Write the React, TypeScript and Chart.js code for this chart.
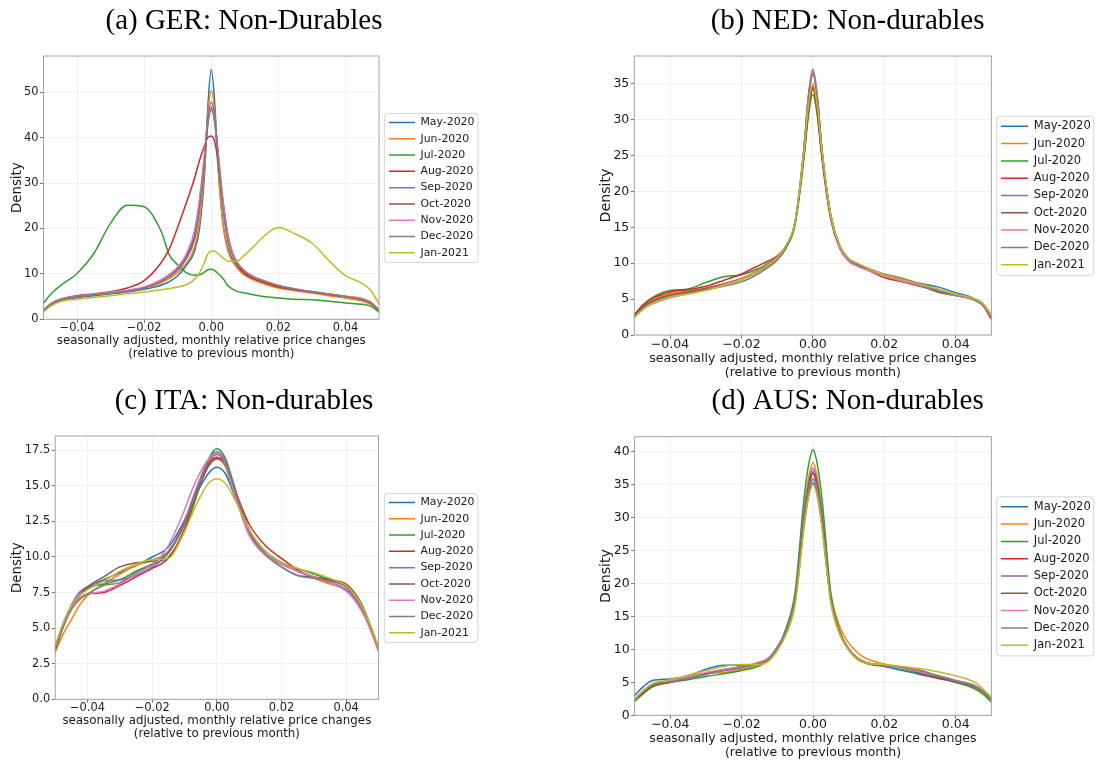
import React, { useEffect, useRef } from "react";
import { Chart, registerables } from "chart.js";

Chart.register(...registerables);

// ---------- shared labels ----------
const SERIES = ["May-2020", "Jun-2020", "Jul-2020", "Aug-2020", "Sep-2020", "Oct-2020", "Nov-2020", "Dec-2020", "Jan-2021"];
const COLORS = ["#1f77b4", "#ff7f0e", "#2ca02c", "#d62728", "#9467bd", "#8c564b", "#e377c2", "#7f7f7f", "#bcbd22"];
const X_TICKS = [-0.04, -0.02, 0, 0.02, 0.04];
const X_TICK_LABELS = ["\u22120.04", "\u22120.02", "0.00", "0.02", "0.04"];
const X_TITLE = ["seasonally adjusted, monthly relative price changes", "(relative to previous month)"];
const Y_TITLE = "Density";

// ---------- (a) GER ----------
const GER_TITLE = "(a) GER: Non-Durables";
const GER_X = [-0.05, -0.0475, -0.045, -0.04, -0.035, -0.03, -0.025, -0.02, -0.015, -0.0125, -0.01, -0.0075, -0.005, -0.0035, -0.002, -0.001, 0, 0.001, 0.002, 0.0035, 0.005, 0.0075, 0.01, 0.0125, 0.015, 0.02, 0.025, 0.03, 0.035, 0.04, 0.045, 0.0475, 0.05];
const GER_MAY = [2.0, 3.3, 4.1, 4.8, 5.2, 5.6, 6.0, 6.6, 7.5, 8.3, 9.6, 11.8, 15.0, 20.0, 32.0, 47.0, 55.0, 48.0, 34.0, 21.0, 15.5, 11.8, 10.0, 9.0, 8.2, 7.2, 6.5, 6.0, 5.4, 4.9, 4.3, 3.6, 1.9];
const GER_JUN = [2.0, 3.4, 4.2, 5.0, 5.4, 5.8, 6.2, 6.9, 8.0, 9.0, 10.3, 12.3, 15.8, 21.5, 33.5, 45.5, 50.3, 46.0, 34.0, 21.0, 15.0, 11.5, 9.7, 8.7, 8.0, 6.9, 6.3, 5.8, 5.2, 4.7, 4.0, 3.3, 1.8];
const GER_JUL = [3.6, 5.8, 7.4, 10.1, 14.5, 21.2, 25.1, 24.8, 19.5, 14.2, 12.0, 10.3, 9.7, 9.8, 10.4, 10.9, 11.0, 10.7, 10.1, 9.0, 7.4, 6.2, 5.8, 5.4, 5.1, 4.7, 4.4, 4.3, 4.0, 3.6, 3.3, 2.9, 1.6];
const GER_AUG = [2.0, 3.5, 4.4, 5.2, 5.6, 6.1, 6.9, 8.5, 12.4, 15.5, 20.3, 25.5, 31.0, 35.0, 38.3, 40.1, 40.4, 39.2, 35.0, 26.0, 18.5, 12.4, 10.0, 9.0, 8.3, 7.1, 6.5, 6.0, 5.5, 5.0, 4.3, 3.6, 1.9];
const GER_SEP = [2.0, 3.5, 4.3, 5.0, 5.4, 5.9, 6.3, 7.0, 8.6, 9.8, 11.3, 14.0, 19.0, 26.0, 36.0, 43.5, 46.5, 44.0, 37.0, 26.0, 18.0, 12.8, 10.6, 9.4, 8.6, 7.4, 6.6, 6.0, 5.5, 5.0, 4.5, 3.7, 2.0];
const GER_OCT = [2.0, 3.5, 4.3, 5.0, 5.4, 5.9, 6.3, 7.0, 8.4, 9.5, 11.0, 13.5, 18.2, 25.0, 35.0, 43.0, 46.2, 43.5, 36.0, 25.0, 17.5, 12.5, 10.5, 9.3, 8.5, 7.3, 6.6, 6.0, 5.5, 5.0, 4.4, 3.7, 2.0];
const GER_NOV = [2.1, 3.6, 4.4, 5.1, 5.5, 6.0, 6.4, 7.1, 8.7, 9.9, 11.5, 14.3, 19.5, 26.5, 36.5, 44.0, 46.8, 44.2, 37.0, 26.0, 18.0, 12.9, 10.7, 9.5, 8.7, 7.5, 6.7, 6.1, 5.6, 5.1, 4.6, 3.8, 2.1];
const GER_DEC = [2.0, 3.5, 4.3, 5.0, 5.4, 5.8, 6.2, 6.9, 8.3, 9.4, 10.8, 13.2, 17.5, 24.0, 35.0, 44.5, 47.8, 45.0, 36.5, 24.5, 17.0, 12.5, 10.5, 9.3, 8.6, 7.4, 6.7, 6.1, 5.6, 5.0, 4.4, 3.7, 2.0];
const GER_JAN = [1.7, 3.0, 3.9, 4.4, 4.8, 5.2, 5.6, 6.0, 6.5, 6.8, 7.1, 7.6, 8.8, 10.2, 12.6, 14.4, 15.0, 15.0, 14.5, 13.5, 12.8, 12.8, 14.2, 15.9, 17.8, 20.2, 18.8, 16.8, 13.0, 9.6, 7.9, 6.4, 3.4];
const GER_Y_TICKS = [0, 10, 20, 30, 40, 50];
const GER_Y_LABELS = ["0", "10", "20", "30", "40", "50"];
const GER_Y_MAX = 58;

// ---------- (b) NED ----------
const NED_TITLE = "(b) NED: Non-durables";
const NED_X = [-0.05, -0.0475, -0.045, -0.04, -0.035, -0.03, -0.025, -0.02, -0.015, -0.0125, -0.01, -0.0075, -0.005, -0.0025, -0.00125, 0, 0.00125, 0.0025, 0.005, 0.0075, 0.01, 0.0125, 0.015, 0.02, 0.025, 0.03, 0.035, 0.04, 0.045, 0.0475, 0.05];
const NED_MAY = [2.6, 3.9, 4.7, 5.5, 5.9, 6.4, 7.0, 7.8, 9.0, 9.8, 10.8, 12.4, 15.6, 25.0, 31.0, 34.3, 31.0, 25.3, 16.5, 12.4, 10.6, 9.9, 9.3, 8.4, 7.7, 7.2, 6.7, 5.9, 5.1, 4.3, 2.6];
const NED_JUN = [2.7, 4.0, 4.9, 5.8, 6.1, 6.5, 7.1, 7.9, 9.1, 9.9, 10.9, 12.4, 15.7, 25.3, 31.5, 34.8, 31.4, 25.5, 16.6, 12.4, 10.6, 9.9, 9.3, 8.4, 7.6, 7.0, 6.3, 5.6, 5.0, 4.3, 2.6];
const NED_JUL = [2.8, 4.2, 5.2, 6.2, 6.4, 7.3, 8.1, 8.4, 9.3, 10.0, 10.8, 12.2, 15.3, 24.5, 30.5, 33.5, 30.5, 24.8, 16.2, 12.2, 10.5, 9.8, 9.3, 8.4, 7.6, 6.9, 6.0, 5.5, 4.9, 4.2, 2.5];
const NED_AUG = [2.8, 4.2, 5.1, 6.0, 6.3, 6.8, 7.6, 8.5, 9.7, 10.3, 11.0, 12.4, 15.6, 25.0, 31.0, 34.5, 31.0, 25.0, 16.2, 12.1, 10.3, 9.6, 9.1, 8.0, 7.4, 6.8, 6.2, 5.6, 5.0, 4.2, 2.2];
const NED_SEP = [2.6, 3.8, 4.6, 5.4, 5.9, 6.4, 7.0, 7.7, 8.9, 9.6, 10.6, 12.2, 15.6, 25.8, 32.8, 36.3, 32.8, 26.0, 16.6, 12.3, 10.4, 9.7, 9.2, 8.3, 7.6, 7.0, 6.3, 5.6, 5.0, 4.3, 2.6];
const NED_OCT = [2.6, 3.9, 4.7, 5.6, 6.0, 6.5, 7.1, 7.8, 8.9, 9.7, 10.6, 12.2, 15.6, 26.0, 33.3, 37.0, 33.3, 26.2, 16.7, 12.3, 10.4, 9.7, 9.2, 8.3, 7.5, 6.9, 6.0, 5.5, 5.0, 4.3, 2.6];
const NED_NOV = [2.5, 3.6, 4.3, 5.2, 5.7, 6.3, 7.0, 7.8, 9.0, 9.7, 10.6, 12.2, 15.7, 26.0, 33.2, 36.8, 33.1, 26.0, 16.6, 12.2, 10.3, 9.6, 9.1, 8.2, 7.5, 6.9, 6.2, 5.5, 5.0, 4.3, 2.6];
const NED_DEC = [2.5, 3.7, 4.5, 5.4, 5.8, 6.3, 6.8, 7.4, 8.6, 9.4, 10.4, 12.1, 15.5, 25.8, 32.8, 36.5, 32.8, 26.0, 16.8, 12.5, 10.6, 9.9, 9.4, 8.5, 7.9, 7.1, 6.2, 5.6, 5.1, 4.4, 2.7];
const NED_JAN = [2.4, 3.6, 4.4, 5.3, 5.7, 6.2, 6.9, 7.7, 8.9, 9.8, 10.8, 12.5, 15.8, 25.5, 31.8, 35.0, 31.8, 25.8, 16.8, 12.5, 10.7, 10.0, 9.4, 8.4, 7.7, 7.1, 6.4, 5.7, 5.1, 4.5, 2.8];
const NED_Y_TICKS = [0, 5, 10, 15, 20, 25, 30, 35];
const NED_Y_LABELS = ["0", "5", "10", "15", "20", "25", "30", "35"];
const NED_Y_MAX = 38.85;

// ---------- (c) ITA ----------
const ITA_TITLE = "(c) ITA: Non-durables";
const ITA_X = [-0.05, -0.0475, -0.045, -0.0425, -0.04, -0.035, -0.03, -0.025, -0.02, -0.015, -0.01, -0.0075, -0.005, -0.0025, 0, 0.0025, 0.005, 0.0075, 0.01, 0.015, 0.02, 0.025, 0.03, 0.035, 0.04, 0.0425, 0.045, 0.0475, 0.05];
const ITA_MAY = [3.4, 5.2, 6.6, 7.5, 7.9, 8.4, 8.9, 9.4, 10.0, 10.7, 12.6, 13.9, 15.0, 15.9, 16.3, 15.9, 14.6, 13.1, 11.8, 10.4, 9.6, 9.0, 8.6, 8.2, 7.7, 7.1, 6.2, 5.0, 3.4];
const ITA_JUN = [3.3, 4.6, 5.6, 6.6, 7.3, 8.1, 8.8, 9.4, 9.8, 10.4, 12.4, 13.9, 15.3, 16.5, 16.9, 16.4, 14.8, 13.2, 11.8, 10.2, 9.5, 9.0, 8.5, 8.1, 7.7, 7.1, 6.2, 4.9, 3.4];
const ITA_JUL = [3.6, 5.2, 6.4, 7.3, 7.8, 8.1, 8.4, 9.0, 9.5, 10.0, 11.8, 13.4, 15.2, 16.9, 17.6, 17.0, 15.3, 13.4, 11.9, 10.4, 9.6, 9.2, 8.8, 8.4, 7.9, 7.3, 6.4, 5.1, 3.6];
const ITA_AUG = [3.6, 5.2, 6.4, 7.1, 7.4, 7.5, 8.0, 8.6, 9.2, 9.9, 12.0, 13.7, 15.3, 16.6, 17.0, 16.6, 15.1, 13.6, 12.3, 10.8, 9.9, 9.1, 8.6, 8.4, 8.1, 7.5, 6.5, 5.1, 3.5];
const ITA_SEP = [3.6, 5.3, 6.6, 7.5, 7.9, 8.3, 8.4, 8.7, 9.3, 10.3, 12.5, 14.1, 15.6, 16.9, 17.4, 16.8, 15.0, 13.2, 11.7, 10.2, 9.5, 9.0, 8.6, 8.2, 7.7, 7.1, 6.2, 5.0, 3.5];
const ITA_OCT = [3.5, 5.1, 6.4, 7.3, 7.9, 8.6, 9.3, 9.6, 9.7, 10.3, 12.3, 13.8, 15.2, 16.4, 16.9, 16.5, 14.9, 13.3, 11.8, 10.2, 9.3, 8.7, 8.6, 8.4, 8.0, 7.5, 6.6, 5.2, 3.6];
const ITA_NOV = [3.7, 5.3, 6.4, 7.1, 7.4, 7.6, 8.1, 8.8, 9.4, 10.8, 13.3, 14.8, 16.0, 16.9, 17.3, 16.6, 14.8, 13.0, 11.5, 10.1, 9.5, 9.0, 8.6, 8.2, 7.6, 7.0, 6.1, 4.9, 3.5];
const ITA_DEC = [3.5, 5.1, 6.3, 7.0, 7.4, 8.0, 8.2, 8.9, 9.5, 10.4, 12.4, 13.9, 15.4, 16.7, 17.2, 16.7, 15.1, 13.4, 11.9, 10.2, 9.3, 8.7, 8.5, 8.3, 7.9, 7.3, 6.4, 5.1, 3.6];
const ITA_JAN = [3.8, 5.4, 6.6, 7.3, 7.7, 8.3, 9.0, 9.5, 9.8, 9.9, 11.8, 13.1, 14.3, 15.2, 15.5, 15.2, 14.3, 13.1, 11.9, 10.4, 9.6, 9.2, 8.9, 8.5, 8.0, 7.4, 6.5, 5.2, 3.7];
const ITA_Y_TICKS = [0, 2.5, 5, 7.5, 10, 12.5, 15, 17.5];
const ITA_Y_LABELS = ["0.0", "2.5", "5.0", "7.5", "10.0", "12.5", "15.0", "17.5"];
const ITA_Y_MAX = 18.5;

// ---------- (d) AUS ----------
const AUS_TITLE = "(d) AUS: Non-durables";
const AUS_X = [-0.05, -0.0475, -0.045, -0.04, -0.035, -0.03, -0.025, -0.02, -0.015, -0.0125, -0.01, -0.0075, -0.005, -0.0025, -0.00125, 0, 0.00125, 0.0025, 0.005, 0.0075, 0.01, 0.0125, 0.015, 0.02, 0.025, 0.03, 0.035, 0.04, 0.045, 0.0475, 0.05];
const AUS_MAY = [3.0, 4.4, 5.3, 5.5, 6.0, 7.0, 7.6, 7.6, 7.8, 8.5, 10.0, 12.6, 17.2, 29.0, 33.3, 35.3, 33.3, 29.0, 17.3, 12.4, 9.9, 8.5, 7.9, 7.4, 6.8, 6.2, 5.7, 5.0, 4.3, 3.6, 2.5];
const AUS_JUN = [2.3, 3.5, 4.4, 5.0, 5.9, 6.4, 6.5, 7.0, 7.6, 8.4, 10.2, 13.0, 18.0, 31.0, 36.0, 38.4, 36.0, 31.0, 18.5, 13.5, 11.0, 9.5, 8.6, 7.8, 7.2, 6.6, 5.8, 5.0, 4.3, 3.5, 2.3];
const AUS_JUL = [2.1, 3.3, 4.3, 5.0, 5.4, 5.9, 6.3, 6.8, 7.5, 8.4, 10.2, 13.3, 18.8, 33.0, 38.0, 40.3, 38.0, 33.0, 18.5, 12.8, 10.0, 8.5, 7.9, 7.5, 7.0, 6.4, 5.8, 5.0, 4.1, 3.3, 2.0];
const AUS_AUG = [2.3, 3.5, 4.5, 5.0, 5.6, 6.3, 6.9, 7.3, 7.9, 8.6, 10.3, 12.8, 17.6, 29.8, 34.5, 36.7, 34.5, 29.8, 17.6, 12.6, 10.1, 8.6, 8.0, 7.6, 7.2, 6.8, 5.9, 5.1, 4.5, 3.7, 2.4];
const AUS_SEP = [2.4, 3.7, 4.6, 5.1, 5.6, 6.2, 6.8, 7.2, 8.0, 8.7, 10.4, 12.9, 17.8, 30.5, 35.2, 37.5, 35.2, 30.5, 17.8, 12.6, 10.1, 8.7, 8.0, 7.5, 7.2, 6.7, 6.0, 5.3, 4.6, 3.8, 2.5];
const AUS_OCT = [2.3, 3.6, 4.6, 5.2, 5.7, 6.3, 6.9, 7.4, 8.0, 8.6, 10.3, 12.8, 17.6, 30.0, 34.8, 37.0, 34.8, 30.0, 17.6, 12.5, 10.0, 8.6, 7.9, 7.5, 7.3, 6.3, 5.6, 5.1, 4.4, 3.7, 2.4];
const AUS_NOV = [2.4, 3.7, 4.7, 5.2, 5.8, 6.5, 7.0, 7.4, 8.1, 8.7, 10.3, 12.7, 17.4, 29.2, 34.0, 36.0, 34.0, 29.2, 17.4, 12.4, 10.0, 8.6, 8.0, 7.6, 7.1, 6.6, 6.0, 5.3, 4.6, 3.8, 2.5];
const AUS_DEC = [2.4, 3.7, 4.7, 5.1, 5.6, 6.2, 6.8, 7.3, 7.9, 8.5, 10.2, 12.6, 17.3, 29.0, 33.8, 35.8, 33.8, 29.0, 17.4, 12.4, 10.0, 8.6, 8.0, 7.6, 7.3, 6.8, 6.0, 5.2, 4.5, 3.7, 2.5];
const AUS_JAN = [2.4, 3.8, 4.8, 5.4, 6.1, 6.8, 7.4, 7.7, 7.7, 8.2, 9.8, 12.3, 16.8, 28.5, 33.0, 35.0, 33.0, 28.5, 17.0, 12.3, 9.9, 8.5, 7.9, 7.7, 7.4, 7.1, 6.6, 6.0, 5.1, 4.1, 2.7];
const AUS_Y_TICKS = [0, 5, 10, 15, 20, 25, 30, 35, 40];
const AUS_Y_LABELS = ["0", "5", "10", "15", "20", "25", "30", "35", "40"];
const AUS_Y_MAX = 42.3;

// ---------- styles / layout (page pixel coordinates) ----------
const FONT_SANS = "'DejaVu Sans', sans-serif";
const FONT_SERIF = "'Liberation Serif', serif";
const TEXT = "#1a1a1a";
const GRID = "rgba(0,0,0,0.075)";
const SPINE = "#a2a2a2";
const LEGEND_EDGE = "#d4d4d4";

const STYLE_SMALL = { tick: 11.4, xlab: 11.85, xlabLH: 13, ylab: 13.3, leg: 10.9, legPad: 5.4, legLine: 26, legW: 96, frame: { l: 4.7, t: 9, b: 9.7, r: 3.5 } };
const STYLE_LARGE = { tick: 12.5, xlab: 12.55, xlabLH: 13.5, ylab: 14.2, leg: 11.5, legPad: 5.8, legLine: 27, legW: 103.5, frame: { l: 4.3, t: 10, b: 10.7, r: 3 } };

const LAYOUT_A = { cl: 0, ct: 0, w: 480, h: 372, padL: 8.4, plotL: 43.5, plotR: 379, plotT: 56, plotB: 319.3, legL: 383.6, titleCY: 21, xl1: 341, ylabCX: 17.7 };
const LAYOUT_B = { cl: 596, ct: 0, w: 503, h: 382, padL: 0.5, plotL: 634.3, plotR: 991.4, plotT: 56, plotB: 335, legL: 995.2, titleCY: 21, xl1: 359, ylabCX: 606 };
const LAYOUT_C = { cl: 0, ct: 380, w: 480, h: 372, padL: 8.4, plotL: 55.2, plotR: 378.5, plotT: 436, plotB: 699.3, legL: 383.6, titleCY: 401, xl1: 721, ylabCX: 17.6 };
const LAYOUT_D = { cl: 596, ct: 380, w: 503, h: 382, padL: 0.5, plotL: 634.6, plotR: 991.4, plotT: 436.7, plotB: 715.3, legL: 995.2, titleCY: 401, xl1: 739, ylabCX: 606 };

const PANELS = [
  { key: "a", title: GER_TITLE, x: GER_X, values: [GER_MAY, GER_JUN, GER_JUL, GER_AUG, GER_SEP, GER_OCT, GER_NOV, GER_DEC, GER_JAN], yTicks: GER_Y_TICKS, yLabels: GER_Y_LABELS, yMax: GER_Y_MAX, layout: LAYOUT_A, style: STYLE_SMALL },
  { key: "b", title: NED_TITLE, x: NED_X, values: [NED_MAY, NED_JUN, NED_JUL, NED_AUG, NED_SEP, NED_OCT, NED_NOV, NED_DEC, NED_JAN], yTicks: NED_Y_TICKS, yLabels: NED_Y_LABELS, yMax: NED_Y_MAX, layout: LAYOUT_B, style: STYLE_LARGE },
  { key: "c", title: ITA_TITLE, x: ITA_X, values: [ITA_MAY, ITA_JUN, ITA_JUL, ITA_AUG, ITA_SEP, ITA_OCT, ITA_NOV, ITA_DEC, ITA_JAN], yTicks: ITA_Y_TICKS, yLabels: ITA_Y_LABELS, yMax: ITA_Y_MAX, layout: LAYOUT_C, style: STYLE_SMALL },
  { key: "d", title: AUS_TITLE, x: AUS_X, values: [AUS_MAY, AUS_JUN, AUS_JUL, AUS_AUG, AUS_SEP, AUS_OCT, AUS_NOV, AUS_DEC, AUS_JAN], yTicks: AUS_Y_TICKS, yLabels: AUS_Y_LABELS, yMax: AUS_Y_MAX, layout: LAYOUT_D, style: STYLE_LARGE },
];

const TITLE_SIZE = 29;
const TITLE_LH = 1.2;

function Panel({ spec }: { spec: any }) {
  const ref = useRef<HTMLCanvasElement | null>(null);
  const L = spec.layout;
  const S = spec.style;

  useEffect(() => {
    if (!ref.current) return;
    const titleLine = TITLE_SIZE * TITLE_LH;
    const titlePadTop = L.titleCY - L.ct - titleLine / 2;
    const titlePadBottom = L.plotT - L.ct - titlePadTop - titleLine;
    const yAxisW = L.plotL - L.cl - L.padL;
    const gapW = L.legL - L.plotR;
    const padR = L.cl + L.w - (L.legL + S.legW);
    const xAxisH = L.ct + L.h - L.plotB;
    const xTitlePB = L.ct + L.h - L.xl1 - 1.5 * S.xlabLH;
    const ylabLH = S.ylab * 1.2;
    const yTitlePT = L.ylabCX - L.cl - L.padL - ylabLH / 2;

    const datasets = SERIES.map((name, i) => ({
      label: name,
      data: spec.x.map((xv: number, j: number) => ({ x: xv, y: spec.values[i][j] })),
      borderColor: COLORS[i],
      backgroundColor: COLORS[i],
      pointBorderColor: COLORS[i],
      pointBackgroundColor: COLORS[i],
      borderWidth: 1.5,
      pointBorderWidth: 1.5,
      pointRadius: 0,
      pointHoverRadius: 0,
      cubicInterpolationMode: "monotone",
      fill: false,
      order: SERIES.length - 1 - i,
    }));

    const framePlugin = {
      id: "frames" + spec.key,
      afterDatasetsDraw(chart: any) {
        const { ctx, chartArea: a } = chart;
        ctx.save();
        ctx.strokeStyle = SPINE;
        ctx.lineWidth = 1;
        ctx.strokeRect(a.left, a.top, a.right - a.left, a.bottom - a.top);
        ctx.restore();
      },
      afterDraw(chart: any) {
        const lg = chart.legend;
        if (!lg || !lg.legendHitBoxes || !lg.legendHitBoxes.length) return;
        const hb = lg.legendHitBoxes;
        const fs = S.leg;
        let right = 0;
        hb.forEach((h: any) => { right = Math.max(right, h.left + h.width); });
        const left = hb[0].left - S.frame.l;
        const top = hb[0].top + fs / 2 - S.frame.t;
        const bottom = hb[hb.length - 1].top + fs / 2 + S.frame.b;
        right += S.frame.r;
        const ctx = chart.ctx;
        ctx.save();
        ctx.strokeStyle = LEGEND_EDGE;
        ctx.lineWidth = 1;
        ctx.beginPath();
        if ((ctx as any).roundRect) (ctx as any).roundRect(left, top, right - left, bottom - top, 3);
        else ctx.rect(left, top, right - left, bottom - top);
        ctx.stroke();
        ctx.restore();
      },
    };

    const chart = new Chart(ref.current, {
      type: "line",
      data: { datasets } as any,
      plugins: [framePlugin],
      options: {
        responsive: false,
        animation: false,
        devicePixelRatio: 1,
        layout: { padding: { left: L.padL, right: padR, top: 0, bottom: 0 } },
        plugins: {
          tooltip: { enabled: false },
          title: {
            display: true,
            text: spec.title,
            color: "#000",
            font: { family: FONT_SERIF, size: TITLE_SIZE, weight: "normal", lineHeight: TITLE_LH },
            padding: { top: titlePadTop, bottom: titlePadBottom },
          },
          legend: {
            display: true,
            position: "right",
            align: "center",
            fullSize: false,
            maxWidth: S.legW,
            labels: {
              usePointStyle: true,
              pointStyle: "line",
              pointStyleWidth: S.legLine,
              padding: S.legPad,
              color: TEXT,
              font: { family: FONT_SANS, size: S.leg },
              sort: (a: any, b: any) => a.datasetIndex - b.datasetIndex,
            },
          },
        },
        scales: {
          x: {
            type: "linear",
            min: -0.05,
            max: 0.05,
            afterBuildTicks: (s: any) => { s.ticks = X_TICKS.map((v) => ({ value: v })); },
            afterFit: (s: any) => { s.height = xAxisH; },
            ticks: {
              autoSkip: false,
              maxRotation: 0,
              padding: 0,
              color: TEXT,
              font: { family: FONT_SANS, size: S.tick, lineHeight: 1 },
              callback: (_v: any, i: number) => X_TICK_LABELS[i],
            },
            grid: { color: GRID, lineWidth: 0.8, tickLength: 3.5, tickColor: "#555", tickWidth: 0.8 },
            border: { display: false },
            title: {
              display: true,
              text: X_TITLE,
              color: TEXT,
              font: { family: FONT_SANS, size: S.xlab, lineHeight: S.xlabLH / S.xlab },
              padding: { top: 0, bottom: xTitlePB },
            },
          },
          y: {
            type: "linear",
            position: "left",
            min: 0,
            max: spec.yMax,
            afterBuildTicks: (s: any) => { s.ticks = spec.yTicks.map((v: number) => ({ value: v })); },
            afterFit: (s: any) => { s.width = yAxisW; },
            ticks: {
              padding: 1.5,
              color: TEXT,
              font: { family: FONT_SANS, size: S.tick, lineHeight: 1 },
              callback: (_v: any, i: number) => spec.yLabels[i],
            },
            grid: { color: GRID, lineWidth: 0.8, tickLength: 3.5, tickColor: "#555", tickWidth: 0.8 },
            border: { display: false },
            title: {
              display: true,
              text: Y_TITLE,
              color: TEXT,
              font: { family: FONT_SANS, size: S.ylab, lineHeight: 1.2 },
              padding: { top: yTitlePT, bottom: 0 },
            },
          },
          gap: {
            type: "linear",
            position: "right",
            display: true,
            grid: { display: false, drawTicks: false },
            ticks: { display: false },
            border: { display: false },
            title: { display: false },
            afterFit: (s: any) => { s.width = gapW; },
          },
        },
      } as any,
    });
    return () => chart.destroy();
  }, []);

  return (
    <canvas
      ref={ref}
      width={L.w}
      height={L.h}
      style={{ position: "absolute", left: L.cl, top: L.ct, width: L.w, height: L.h }}
    />
  );
}

export default function App() {
  return (
    <div style={{ position: "absolute", left: 0, top: 0, width: 1097, height: 765, overflow: "hidden", background: "#fff" }}>
      {PANELS.map((p) => (
        <Panel key={p.key} spec={p} />
      ))}
    </div>
  );
}
